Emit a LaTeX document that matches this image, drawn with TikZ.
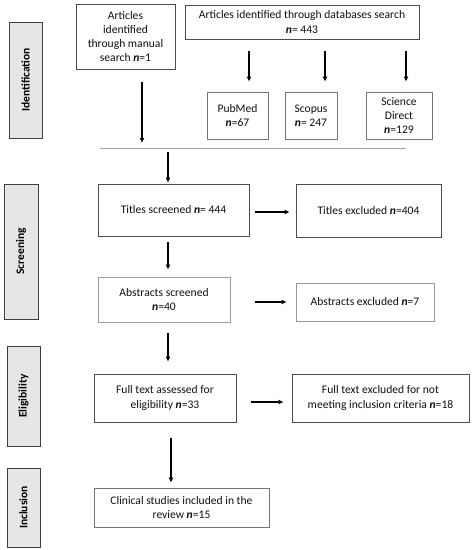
\documentclass[tikz,border=0pt]{standalone}
\usepackage{fontspec}
\setmainfont{Carlito}
\usetikzlibrary{arrows.meta}
\newcommand{\nn}{\textbf{\textit{n}}}
\definecolor{txt}{HTML}{111111}
\definecolor{lblfill}{HTML}{E6E6E6}
\tikzset{
  box/.style={draw=black!70, line width=0.8pt, fill=white, align=center, inner sep=2pt, text=txt,
    font=\fontsize{11.6}{14.3}\selectfont},
  lbox/.style={box, draw=black!40},
  phase/.style={draw=black!75, line width=1pt, fill=lblfill},
  phasetxt/.style={rotate=90, text=black, font=\fontsize{11.5}{14}\selectfont\bfseries},
  arr/.style={-{Latex[length=5pt,width=5pt]}, line width=1.2pt, black},
}
\begin{document}
\begin{tikzpicture}[x=1pt,y=-1pt]
\useasboundingbox (0,0) rectangle (473,550);
% phase labels
\node[phase, minimum width=33pt, minimum height=116pt] (pid) at (25.5,80) {};
\node[phasetxt] (tid) at (pid.center) {Identification};
\node[phase, minimum width=34pt, minimum height=135pt] (psc) at (21,251.5) {};
\node[phasetxt] (tsc) at (psc.center) {Screening};
\node[phase, minimum width=33pt, minimum height=100pt] (pel) at (23.5,396) {};
\node[phasetxt] (tel) at (pel.center) {Eligibility};
\node[phase, minimum width=33pt, minimum height=79pt] (pin) at (23.5,507.5) {};
\node[phasetxt] (tin) at (pin.center) {Inclusion};
% boxes
\node[box, minimum width=99pt, minimum height=65pt] (manual) at (125.5,36.5) {Articles\\identified\\through manual\\search \nn=1};
\node[box, minimum width=234pt, minimum height=34pt] (db) at (302,22) {Articles identified through databases search\\\nn= 443};
\node[lbox, draw=black!55, minimum width=61pt, minimum height=47pt] (pubmed) at (237.5,115.5) {PubMed\\\nn=67};
\node[lbox, draw=black!55, minimum width=52pt, minimum height=47pt] (scopus) at (311,115.5) {Scopus\\\nn= 247};
\node[lbox, draw=black!55, minimum width=66pt, minimum height=47pt] (sd) at (399,115.5) {Science\\Direct\\\nn=129};
\coordinate (hlL) at (100,148);
\coordinate (hlR) at (406,148);
\draw[black!35, line width=0.9pt] (hlL) -- (hlR);
\node[box, minimum width=151pt, minimum height=52pt] (titles) at (173.5,210) {Titles screened \nn= 444};
\node[box, minimum width=145pt, minimum height=53pt] (titlesex) at (368.5,210.5) {Titles excluded \nn=404};
\node[lbox, minimum width=132pt, minimum height=45pt] (abs) at (164,299.5) {Abstracts screened\\\nn=40};
\node[lbox, minimum width=138pt, minimum height=38pt] (absex) at (365,302) {Abstracts excluded \nn=7};
\node[box, minimum width=142pt, minimum height=48pt] (ft) at (165,398) {Full text assessed for\\eligibility \nn=33};
\node[box, minimum width=177pt, minimum height=48pt] (ftex) at (380.5,398) {Full text excluded for not\\meeting inclusion criteria \nn=18};
\node[lbox, draw=black!55, minimum width=175pt, minimum height=39pt] (clin) at (181.5,507.5) {Clinical studies included in the\\review \nn=15};
% arrows
\draw[arr, shorten <=13pt, shorten >=5pt] ([xshift=16.5pt]manual.south) -- ([xshift=16.5pt]manual.south |- hlL);
\draw[arr, shorten <=12pt, shorten >=10pt] ([xshift=11.5pt]pubmed.north |- db.south) -- ([xshift=11.5pt]pubmed.north);
\draw[arr, shorten <=12pt, shorten >=10pt] ([xshift=14pt]scopus.north |- db.south) -- ([xshift=14pt]scopus.north);
\draw[arr, shorten <=12pt, shorten >=10pt] ([xshift=7pt]sd.north |- db.south) -- ([xshift=7pt]sd.north);
\draw[arr, shorten <=4pt, shorten >=1pt] ([xshift=-5.5pt]titles.north |- hlL) -- ([xshift=-5.5pt]titles.north);
\draw[arr, shorten <=6pt, shorten >=6pt] ([yshift=-2pt]titles.east) -- ([yshift=-2pt]titles.east -| titlesex.west);
\draw[arr, shorten <=6pt, shorten >=7pt] ([xshift=-5.5pt]titles.south) -- ([xshift=-5.5pt]titles.south |- abs.north);
\draw[arr, shorten <=25pt, shorten >=9pt] ([yshift=-2.5pt]abs.east) -- ([yshift=-2.5pt]abs.east -| absex.west);
\draw[arr, shorten <=11pt, shorten >=12pt] ([xshift=4pt]abs.south) -- ([xshift=4pt]abs.south |- ft.north);
\draw[arr, shorten <=15pt, shorten >=8pt] ([yshift=-4pt]ft.east) -- ([yshift=-4pt]ft.east -| ftex.west);
\draw[arr, shorten <=16pt, shorten >=5pt] ([xshift=6pt]ft.south) -- ([xshift=6pt]ft.south |- clin.north);
\end{tikzpicture}
\end{document}
